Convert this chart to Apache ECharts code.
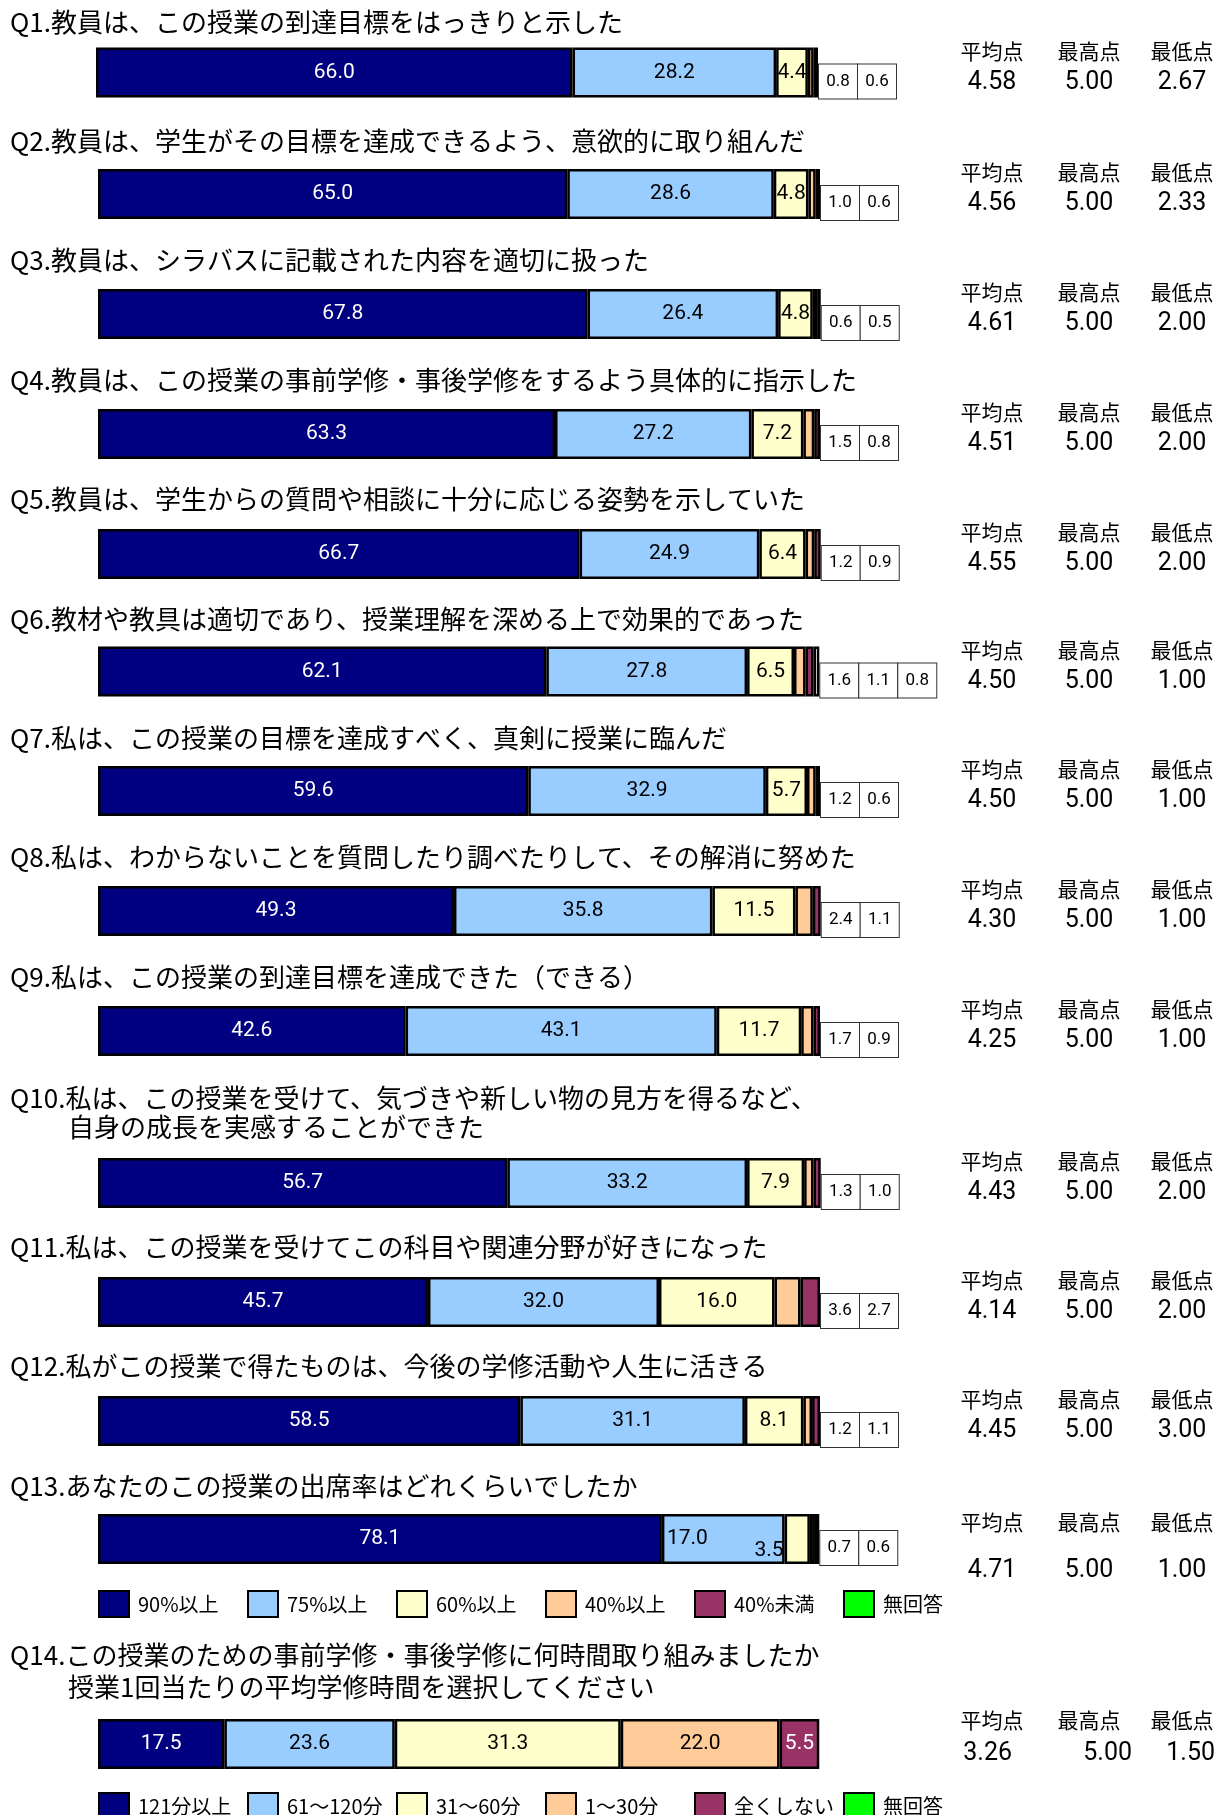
<!DOCTYPE html>
<html><head><meta charset="utf-8">
<script src="https://cdn.jsdelivr.net/npm/echarts@6/dist/echarts.min.js"></script>
<style>html,body{margin:0;padding:0;background:#fff}#main{width:1231px;height:1815px}</style>
</head><body><div id="main"></div>
<script>
// ---------- data ----------
const questions = [
  ['Q1.教員は、この授業の到達目標をはっきりと示した'],
  ['Q2.教員は、学生がその目標を達成できるよう、意欲的に取り組んだ'],
  ['Q3.教員は、シラバスに記載された内容を適切に扱った'],
  ['Q4.教員は、この授業の事前学修・事後学修をするよう具体的に指示した'],
  ['Q5.教員は、学生からの質問や相談に十分に応じる姿勢を示していた'],
  ['Q6.教材や教具は適切であり、授業理解を深める上で効果的であった'],
  ['Q7.私は、この授業の目標を達成すべく、真剣に授業に臨んだ'],
  ['Q8.私は、わからないことを質問したり調べたりして、その解消に努めた'],
  ['Q9.私は、この授業の到達目標を達成できた（できる）'],
  ['Q10.私は、この授業を受けて、気づきや新しい物の見方を得るなど、', '自身の成長を実感することができた'],
  ['Q11.私は、この授業を受けてこの科目や関連分野が好きになった'],
  ['Q12.私がこの授業で得たものは、今後の学修活動や人生に活きる'],
  ['Q13.あなたのこの授業の出席率はどれくらいでしたか'],
  ['Q14.この授業のための事前学修・事後学修に何時間取り組みましたか', '授業1回当たりの平均学修時間を選択してください']
];
const segNames = ['90%以上', '75%以上', '60%以上', '40%以上', '40%未満', '無回答'];
const q90   = [66.0, 65.0, 67.8, 63.3, 66.7, 62.1, 59.6, 49.3, 42.6, 56.7, 45.7, 58.5, 78.1];
const q75   = [28.2, 28.6, 26.4, 27.2, 24.9, 27.8, 32.9, 35.8, 43.1, 33.2, 32.0, 31.1, 17.0];
const q60   = [4.4, 4.8, 4.8, 7.2, 6.4, 6.5, 5.7, 11.5, 11.7, 7.9, 16.0, 8.1, 3.5];
const q40   = [0.8, 1.0, 0.6, 1.5, 1.2, 1.6, 1.2, 2.4, 1.7, 1.3, 3.6, 1.2, 0.7];
const qLow  = [0.6, 0.6, 0.5, 0.8, 0.9, 1.1, 0.6, 1.1, 0.9, 1.0, 2.7, 1.1, 0.6];
const qNone = [0, 0, 0, 0, 0, 0.8, 0, 0, 0, 0, 0, 0, 0];

const q14Names  = ['121分以上', '61～120分', '31～60分', '1～30分', '全くしない', '無回答'];
const q14Values = [17.5, 23.6, 31.3, 22.0, 5.5, 0];

const statHeaders = ['平均点', '最高点', '最低点'];
const avgScore = ['4.58','4.56','4.61','4.51','4.55','4.50','4.50','4.30','4.25','4.43','4.14','4.45','4.71','3.26'];
const maxScore = ['5.00','5.00','5.00','5.00','5.00','5.00','5.00','5.00','5.00','5.00','5.00','5.00','5.00','5.00'];
const minScore = ['2.67','2.33','2.00','2.00','2.00','1.00','1.00','1.00','1.00','2.00','2.00','3.00','1.00','1.50'];

// ---------- layout / style ----------
const barColors = ['#000080', '#99CCFF', '#FFFFCC', '#FFCC99', '#993366', '#FFFFFF'];
const legendColors = ['#000080', '#99CCFF', '#FFFFCC', '#FFCC99', '#993366', '#00FF00'];
const barCenters = [72.5, 194, 314, 434, 554, 671.5, 791, 911, 1031, 1183, 1302, 1421, 1539, 1744];
const titleYs = [[22], [141], [260], [380], [499], [619], [738], [857], [977], [1098, 1127], [1247], [1366], [1486], [1655, 1687]];
const GRID_LEFT = 98, GRID_W = 722, BAR_H = 50;
const JP = '"Noto Sans CJK JP", "Noto Sans", sans-serif';
const NUM = 'Roboto, "Liberation Sans", sans-serif';

const chart = echarts.init(document.getElementById('main'));

const grid = [], xAxis = [], yAxis = [], series = [], graphic = [];

for (let g = 0; g < 14; g++) {
  const left = g === 0 ? GRID_LEFT - 2 : GRID_LEFT;
  grid.push({left: left, width: GRID_W, top: barCenters[g] - BAR_H / 2, height: BAR_H});
  xAxis.push({type: 'value', gridIndex: g, min: 0, max: 100, show: false});
  yAxis.push({type: 'category', gridIndex: g, data: ['q'], show: false});
  const vals = g < 13 ? [q90[g], q75[g], q60[g], q40[g], qLow[g], qNone[g]] : q14Values;
  const names = g < 13 ? segNames : q14Names;
  const total = vals.reduce((a, b) => a + b, 0);
  let boxK = 0;
  for (let s = 0; s < 6; s++) {
    const v = vals[s];
    const boxed = g < 13 && s >= 3 && v > 0;
    const k = boxed ? boxK++ : -1;
    let label;
    if (boxed) {
      label = {
        show: true, position: 'right', formatter: v.toFixed(1),
        fontSize: 17, fontFamily: NUM, color: '#000',
        backgroundColor: '#fff', borderColor: '#333', borderWidth: 1,
        width: 38, height: 34, lineHeight: 34, padding: 0,
        align: 'center', verticalAlign: 'middle'
      };
    } else {
      label = {
        show: v > 0, position: 'inside', formatter: v.toFixed(1),
        fontSize: 21, fontFamily: NUM,
        color: (s === 0 || s === 4) ? '#fff' : '#000'
      };
      if (g === 12 && s === 1) { label.position = 'insideLeft'; label.distance = 5; }
      if (g === 12 && s === 2) { label.position = 'left'; label.distance = 1; label.offset = [0, 12]; }
    }
    const ser = {
      type: 'bar', name: names[s], xAxisIndex: g, yAxisIndex: g, stack: 'q' + g,
      barWidth: BAR_H, silent: true,
      data: [v > 0 ? v : '-'],
      itemStyle: {color: barColors[s], borderColor: '#000', borderWidth: 2.5},
      label: label
    };
    if (boxed) {
      ser.labelLayout = function (p) {
        let endX;
        try { endX = chart.convertToPixel({xAxisIndex: g}, total); } catch (e) { endX = null; }
        if (endX == null || isNaN(endX)) endX = left + GRID_W * total / 100;
        return {
          x: endX + 20 + k * 39,
          y: p.rect.y + p.rect.height / 2 + 9,
          align: 'center', verticalAlign: 'middle'
        };
      };
    }
    series.push(ser);
  }

  // titles
  const lines = questions[g];
  lines.forEach((t, i) => {
    graphic.push({
      type: 'text', x: i === 0 ? 10 : 68, y: titleYs[g][i],
      style: {text: t, fontSize: 26, fontFamily: JP, fill: '#000', align: 'left', verticalAlign: 'middle'}
    });
  });

  // stats
  const statX = [992, 1089, 1182];
  let hDy = -21.5, vDy = 10;
  if (g === 12) { hDy = -17; vDy = 32; }
  if (g === 13) { hDy = -24; vDy = 10; }
  const statVals = [avgScore[g], maxScore[g], minScore[g]];
  for (let c = 0; c < 3; c++) {
    graphic.push({
      type: 'text', x: statX[c], y: barCenters[g] + hDy,
      style: {text: statHeaders[c], fontSize: 21, fontFamily: JP, fill: '#000', align: 'center', verticalAlign: 'middle'}
    });
    const q14X = [1012, 1132, 1215];
    graphic.push({
      type: 'text', x: g === 13 ? q14X[c] : statX[c], y: barCenters[g] + vDy,
      style: {text: statVals[c], fontSize: 25, fontFamily: NUM, fill: '#000',
              align: g === 13 ? 'right' : 'center', verticalAlign: 'middle'}
    });
  }
}

// legends
const legend = [];
function addLegends(names, top) {
  names.forEach((n, i) => {
    legend.push({
      data: [{name: n, itemStyle: {color: legendColors[i], borderColor: '#000', borderWidth: 2}}],
      left: GRID_LEFT + i * 149, top: top, padding: 0,
      itemWidth: 30, itemHeight: 26, icon: 'rect', selectedMode: false,
      itemStyle: {borderColor: '#000', borderWidth: 2},
      textStyle: {fontSize: 20, fontFamily: JP, color: '#000', padding: [0, 0, 0, 4]}
    });
  });
}
addLegends(segNames, 1590);
addLegends(q14Names, 1792);

chart.setOption({
  animation: false,
  backgroundColor: '#fff',
  grid, xAxis, yAxis, series, legend, graphic
});
</script>
</body></html>
